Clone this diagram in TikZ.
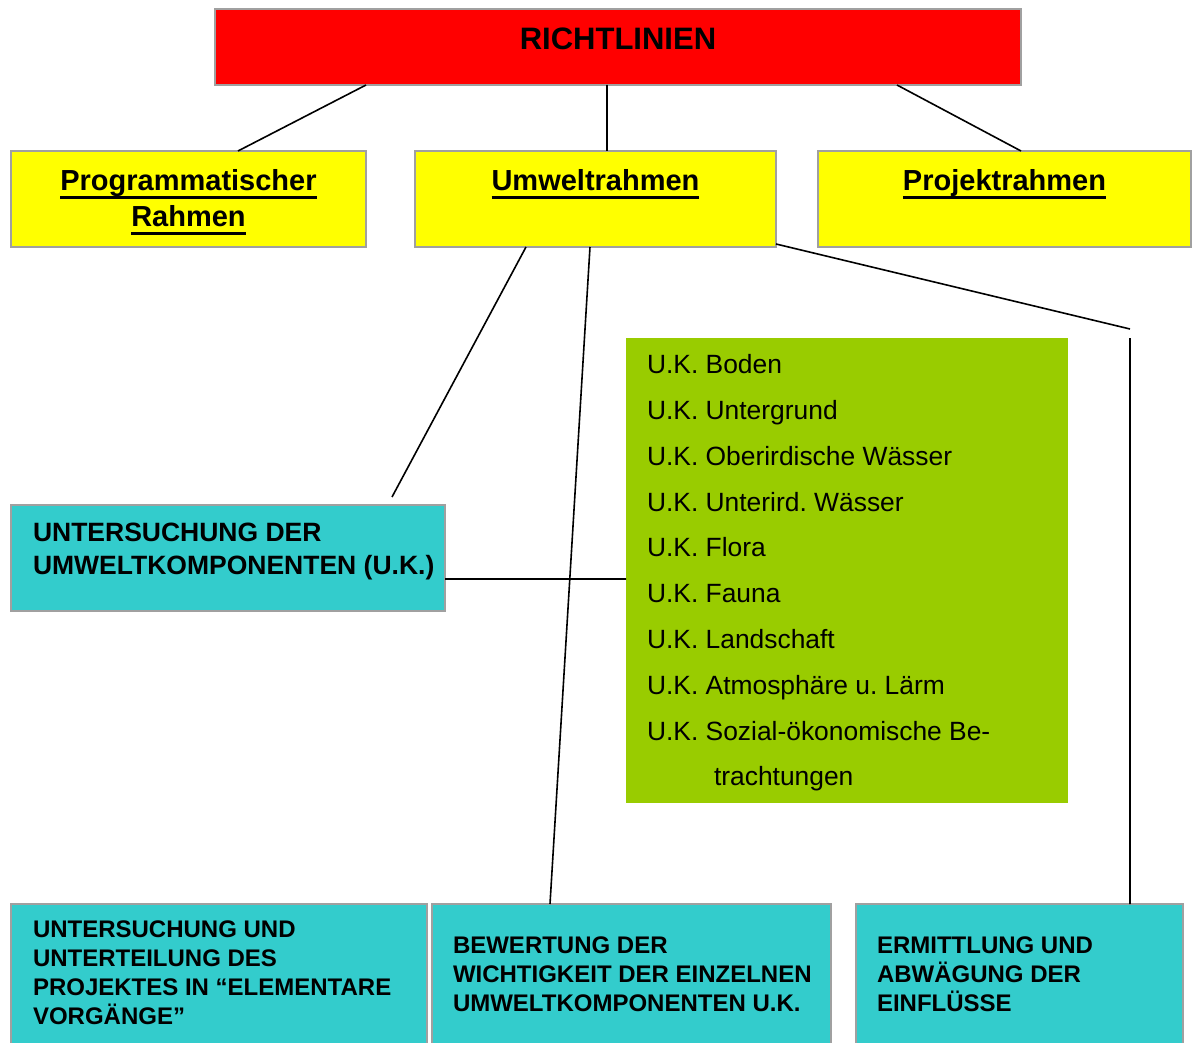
\documentclass[tikz,border=0pt]{standalone}
\usepackage{fontspec}
\setmainfont{Liberation Sans}
\usepackage{xcolor}
\usetikzlibrary{positioning}
\frenchspacing

\definecolor{rot}{HTML}{FF0000}
\definecolor{gelb}{HTML}{FFFF00}
\definecolor{tuerkis}{HTML}{33CCCC}
\definecolor{gruen}{HTML}{99CC00}
\definecolor{rahmen}{HTML}{A0A0A0}

\newcommand{\unterstr}[1]{\leavevmode\setbox0=\hbox{#1}\rlap{\rule[-8.5pt]{\wd0}{3pt}}\box0}
\newcommand{\kasten}[4]{\parbox[t][#2pt][t]{#1pt}{\vspace*{#3pt}#4}}

\begin{document}
\begin{tikzpicture}[x=1pt, y=-1pt,
    kiste/.style={draw=rahmen, line width=1.6pt, inner sep=0pt, outer sep=0pt, anchor=north west},
    verbinder/.style={draw=black, line width=1.6pt}]

        \useasboundingbox (0,0) rectangle (1192,1043);
        \clip (0,0) rectangle (1192,1043);

        \node[kiste, fill=rot] (richt) at (215,9) {\kasten{806}{76}{19}{\centering\fontsize{31}{37}\selectfont\bfseries RICHTLINIEN}};

        \node[kiste, fill=gelb] (prog) at (11,151) {\kasten{355}{96}{18}{\centering\fontsize{29}{36}\selectfont\bfseries \unterstr{Programmatischer}\\\unterstr{Rahmen}}};
        \node[kiste, fill=gelb, anchor=west] (umw) [right=49pt of prog] {\kasten{361}{96}{18}{\centering\fontsize{29}{36}\selectfont\bfseries \unterstr{Umweltrahmen}}};
        \node[kiste, fill=gelb, anchor=west] (proj) [right=42pt of umw] {\kasten{373}{96}{18}{\centering\fontsize{29}{36}\selectfont\bfseries \unterstr{Projektrahmen}}};

        \node[kiste, fill=tuerkis] (uk) at (11,505) {\kasten{434}{106}{18}{\raggedright\leftskip=22pt\fontsize{26.5}{33}\selectfont\bfseries UNTERSUCHUNG DER\\UMWELTKOMPONENTEN (U.K.)}};

        \node[kiste, draw=none, fill=gruen] (liste) at (626,338) {\kasten{442}{465}{16.5}{\raggedright\leftskip=21pt\fontsize{26.4}{45.8}\selectfont
            U.K. Boden\\
            U.K. Untergrund\\
            U.K. Oberirdische Wässer\\
            U.K. Unterird. Wässer\\
            U.K. Flora\\
            U.K. Fauna\\
            U.K. Landschaft\\
            U.K. Atmosphäre u. Lärm\\
            U.K. Sozial-ökonomische Be-\\
            \hspace*{67pt}trachtungen}};

        \node[kiste, fill=tuerkis] (unters) at (11,904) {\kasten{416}{150}{17}{\raggedright\leftskip=22pt\fontsize{24}{29}\selectfont\bfseries UNTERSUCHUNG UND\\UNTERTEILUNG DES\\PROJEKTES IN “ELEMENTARE\\VORGÄNGE”}};
        \node[kiste, fill=tuerkis, anchor=west] (bew) [right=5pt of unters] {\kasten{399}{150}{33}{\raggedright\leftskip=21pt\fontsize{24}{29}\selectfont\bfseries BEWERTUNG DER\\WICHTIGKEIT DER EINZELNEN\\UMWELTKOMPONENTEN U.K.}};
        \node[kiste, fill=tuerkis, anchor=west] (ermitt) [right=25pt of bew] {\kasten{327}{150}{33}{\raggedright\leftskip=21pt\fontsize{24}{29}\selectfont\bfseries ERMITTLUNG UND\\ABWÄGUNG DER\\EINFLÜSSE}};

        \coordinate (knick) at (1130,329);

        \path[verbinder]
        ([xshift=151pt]richt.south west) -- ([xshift=227pt]prog.north west)
        ([xshift=392pt]richt.south west) -- ([xshift=192pt]umw.north west)
        ([xshift=682pt]richt.south west) -- ([xshift=203pt]proj.north west)
        ([xshift=111pt]umw.south west) -- ([xshift=381pt,yshift=8pt]uk.north west)
        ([xshift=175pt]umw.south west) -- ([xshift=118pt]bew.north west)
        ([yshift=3pt]umw.south east) -- (knick)
        ([yshift=-9pt]knick) -- ([xshift=274pt]ermitt.north west)
        ([yshift=-21pt]uk.east) -- ([yshift=-21pt]uk.east -| liste.west);

\end{tikzpicture}
\end{document}
